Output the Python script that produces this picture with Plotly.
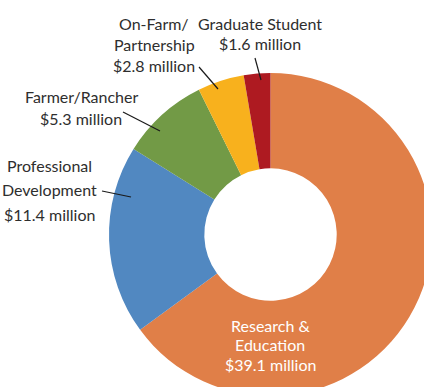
import plotly.graph_objects as go

# Funding by program area, in millions of dollars
programs = ["Research & Education", "Professional Development", "Farmer/Rancher",
            "On-Farm/Partnership", "Graduate Student"]
funding = [39.1, 11.4, 5.3, 2.8, 1.6]
colors = ["#E07F48", "#5188C1", "#729A46", "#F8B11D", "#AE1A21"]

# Callout text lines per program
label_lines = [
    ["Research &", "Education", "$39.1 million"],
    ["Professional", "Development", "$11.4 million"],
    ["Farmer/Rancher", "$5.3 million"],
    ["On-Farm/", "Partnership", "$2.8 million"],
    ["Graduate Student", "$1.6 million"],
]

# Canvas is slightly larger than the view so the ring runs off the right/bottom edges
W, H = 440, 405
cx, cy, r = 270.5, 234.5, 161.5

# Label anchor (x, first line y, line step) and leader lines, in canvas pixels
label_pos = [(270, 325, 19.5), (49, 165, 24.5), (81, 96, 22), (154, 23, 21), (260, 23, 20.5)]
label_color = ["white", "#2e2e2e", "#2e2e2e", "#2e2e2e", "#2e2e2e"]
leaders = [None, (102, 191, 131, 197), (123, 112, 160, 131), (199, 67, 218, 89), (255, 58, 261, 80)]

fig = go.Figure()
fig.add_trace(go.Pie(
    labels=programs, values=funding, hole=0.41, sort=False, direction="clockwise",
    rotation=0, marker=dict(colors=colors, line=dict(width=0)),
    textinfo="none", hoverinfo="label+value", showlegend=False,
    domain=dict(x=[(cx - r) / W, (cx + r) / W], y=[(H - cy - r) / H, (H - cy + r) / H]),
))

# Invisible pixel axes to place callouts
fig.update_xaxes(range=[0, W], visible=False, fixedrange=True)
fig.update_yaxes(range=[H, 0], visible=False, fixedrange=True)

font_family = "Lato, sans-serif"
for lines, (x, y0, step), col in zip(label_lines, label_pos, label_color):
    for i, line in enumerate(lines):
        fig.add_annotation(x=x, y=y0 + i * step, xref="x", yref="y", text=line,
                           showarrow=False, xanchor="center", yanchor="middle",
                           font=dict(family=font_family, size=16, color=col))

for seg in leaders:
    if seg:
        x0, y0, x1, y1 = seg
        fig.add_shape(type="line", x0=x0, y0=y0, x1=x1, y1=y1, xref="x", yref="y",
                      line=dict(color="#1a1a1a", width=1.2))

fig.update_layout(width=W, height=H, margin=dict(l=0, r=0, t=0, b=0),
                  paper_bgcolor="white", plot_bgcolor="rgba(0,0,0,0)")

fig.write_html("out.html", config={"displayModeBar": False},
               post_script="document.documentElement.style.overflow='hidden';"
                           "document.body.style.overflow='hidden';")
